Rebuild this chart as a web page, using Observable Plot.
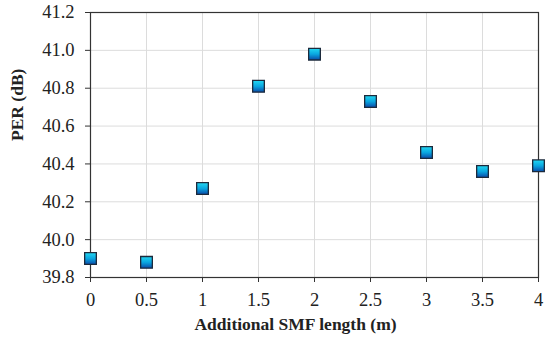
<!DOCTYPE html>
<html><head><meta charset="utf-8">
<script src="https://cdn.jsdelivr.net/npm/d3@7"></script>
<script src="https://cdn.jsdelivr.net/npm/@observablehq/plot@0.6"></script>
<style>body{margin:0;background:#fff}
#chart svg, #chart svg g, #chart svg text{font-family:"Liberation Serif","DejaVu Serif",serif !important;font-variant:normal !important;}</style>
</head><body><div id="chart"></div>
<script>
const lengths = [0, 0.5, 1, 1.5, 2, 2.5, 3, 3.5, 4];
const per = [39.90, 39.88, 40.27, 40.81, 40.98, 40.73, 40.46, 40.36, 40.39];
const xTicks = [0, 0.5, 1, 1.5, 2, 2.5, 3, 3.5, 4];
const yTicks = [39.8, 40.0, 40.2, 40.4, 40.6, 40.8, 41.0, 41.2];
const data = lengths.map((x, i) => ({x, y: per[i]}));
const serif = "Liberation Serif";

const chart = Plot.plot({
  width: 550, height: 341,
  marginLeft: 90, marginRight: 12, marginTop: 12, marginBottom: 64,
  style: "font-family: 'Liberation Serif', serif; color: #222; background: #fff;",
  x: {domain: [0, 4], ticks: xTicks, label: null},
  y: {domain: [39.8, 41.2], ticks: yTicks, label: null},
  marks: [
    Plot.gridX(xTicks, {stroke: "#dcdcdc", strokeOpacity: 1}),
    Plot.gridY(yTicks, {stroke: "#dcdcdc", strokeOpacity: 1}),
    Plot.frame({stroke: "#333", strokeWidth: 1.2}),
    Plot.axisX(xTicks, {tickSize: 5, tickPadding: 10, stroke: "#333", fill: "#222", fontSize: 18.5, fontFamily: serif, fontVariant: "normal", tickFormat: d => String(d), label: null}),
    Plot.axisY(yTicks, {tickSize: 5, tickPadding: 11, stroke: "#333", fill: "#222", fontSize: 18.5, fontFamily: serif, fontVariant: "normal", tickFormat: d3.format(".1f"), label: null}),
    Plot.dot(data, {x: "x", y: "y", symbol: "square", r: 6.6, fill: "url(#sqgrad)", stroke: "#1c2a3c", strokeWidth: 1.3}),
    Plot.text(["Additional SMF length (m)"], {frameAnchor: "bottom", dx: -19, dy: 52, fontWeight: "bold", fontSize: 17.5, fontFamily: serif, fill: "#222"}),
    Plot.text(["PER (dB)"], {frameAnchor: "left", dx: -73, dy: -4, rotate: -90, fontWeight: "bold", fontSize: 17.5, fontFamily: serif, fill: "#222"})
  ]
});
const ns = "http://www.w3.org/2000/svg";
const defs = document.createElementNS(ns, "defs");
defs.innerHTML = `<linearGradient id="sqgrad" x1="0" y1="0" x2="0" y2="1">
<stop offset="0" stop-color="#22d8f2"/><stop offset="0.5" stop-color="#0aa6e0"/><stop offset="1" stop-color="#0a4aa8"/></linearGradient>`;
chart.insertBefore(defs, chart.firstChild);
document.getElementById("chart").appendChild(chart);
</script></body></html>
